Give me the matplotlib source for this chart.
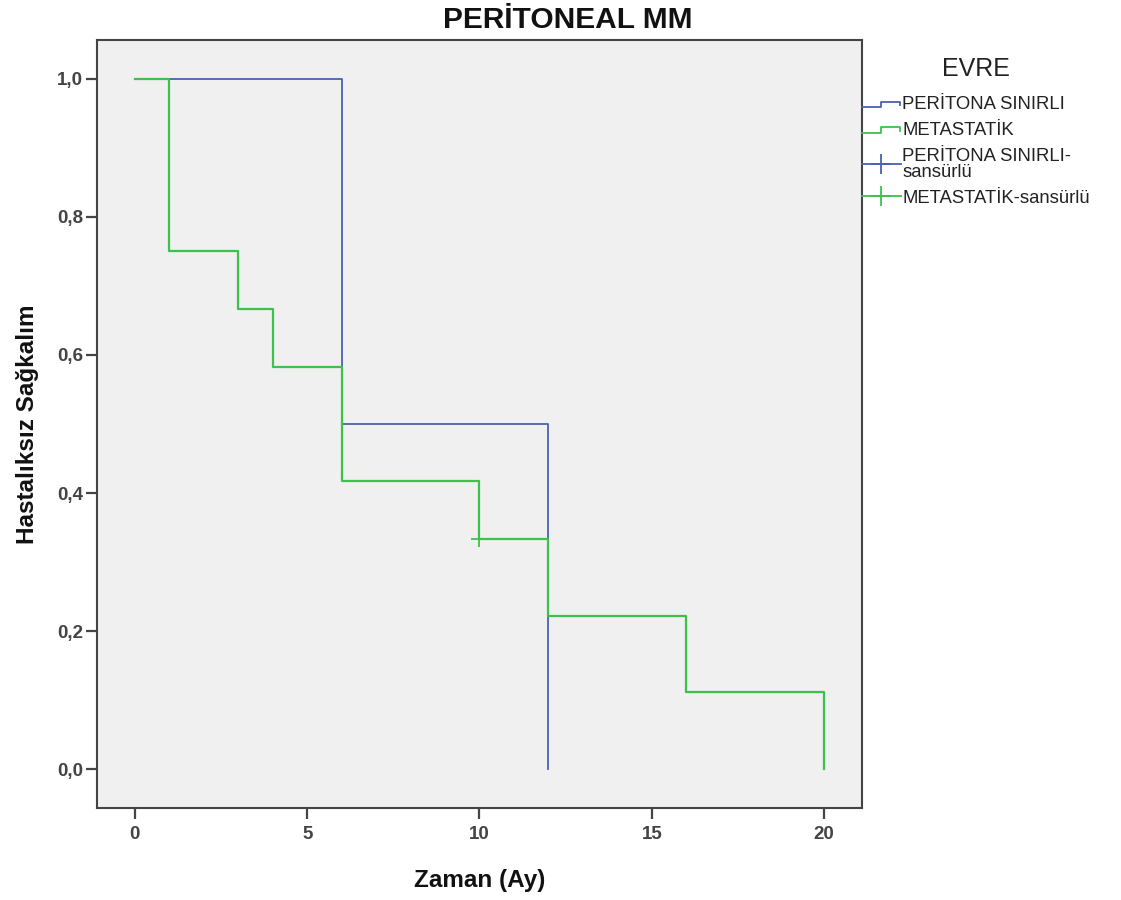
import matplotlib
matplotlib.use("Agg")
import matplotlib.pyplot as plt
from matplotlib.lines import Line2D
from matplotlib.legend_handler import HandlerBase

# Kaplan-Meier step data (time in months, survival)
peri_times = [0, 6, 12]
peri_surv = [1.0, 0.5, 0.0]
meta_times = [0, 1, 3, 4, 6, 10, 12, 16, 20]
meta_surv = [1.0, 0.75, 0.6667, 0.5833, 0.4167, 0.3333, 0.2222, 0.1111, 0.0]
meta_cens_t = [10]
meta_cens_s = [0.3333]
peri_cens_t = []
peri_cens_s = []

x_ticks = [0, 5, 10, 15, 20]
y_ticks = [0.0, 0.2, 0.4, 0.6, 0.8, 1.0]
y_tick_labels = ["0,0", "0,2", "0,4", "0,6", "0,8", "1,0"]

BLUE = "#4a62b0"
GREEN = "#3cc24a"

plt.rcParams["font.family"] = ["Liberation Sans", "DejaVu Sans"]

fig = plt.figure(figsize=(11.21, 9.0), dpi=100)
ax = fig.add_axes([97 / 1121, 1 - 808 / 900, (862 - 97) / 1121, (808 - 40) / 900])
ax.set_facecolor("#f0f0f0")


def step_xy(times, surv):
    xs, ys = [], []
    for i, (t, s) in enumerate(zip(times, surv)):
        if i > 0:
            xs.append(t)
            ys.append(surv[i - 1])
        xs.append(t)
        ys.append(s)
    return xs, ys


px, py = step_xy(peri_times, peri_surv)
mx, my = step_xy(meta_times, meta_surv)
ax.plot(px, py, color=BLUE, lw=1.3, zorder=3)
ax.plot(mx, my, color=GREEN, lw=1.6, zorder=4)
ax.plot(meta_cens_t, meta_cens_s, ls="none", marker="+", ms=11, mew=1.3,
        color=GREEN, zorder=5)
if peri_cens_t:
    ax.plot(peri_cens_t, peri_cens_s, ls="none", marker="+", ms=11, mew=1.3,
            color=BLUE, zorder=5)

ax.set_xlim(-1.1, 21.1)
ax.set_ylim(-0.0565, 1.0565)
ax.set_xticks(x_ticks)
ax.set_xticklabels([str(v) for v in x_ticks])
ax.set_yticks(y_ticks)
ax.set_yticklabels(y_tick_labels)
ax.tick_params(axis="both", direction="out", length=8, width=1.6,
               color="#444444", labelsize=13.5, labelcolor="#444444")
ax.tick_params(axis="x", pad=5)
ax.tick_params(axis="y", pad=2)
for lab in ax.get_xticklabels() + ax.get_yticklabels():
    lab.set_fontweight("bold")
for sp in ax.spines.values():
    sp.set_color("#444444")
    sp.set_linewidth(1.5)

fig.text(568 / 1121, 1 - 20 / 900, "PERİTONEAL MM", fontsize=21.5,
         fontweight="bold", ha="center", va="center", color="#111111")
ax.set_xlabel("Zaman (Ay)", fontsize=17.5, fontweight="bold", color="#111111")
ax.xaxis.set_label_coords((480 - 97) / 765, -(880 - 808) / 768)
ax.set_ylabel("Hastalıksız Sağkalım", fontsize=17.5, fontweight="bold",
              color="#111111", va="center")
ax.yaxis.set_label_coords(-(97 - 28) / 765, 0.5)
ax.xaxis.label.set_va("center")


class StepHandler(HandlerBase):
    def create_artists(self, legend, orig_handle, xdescent, ydescent,
                       width, height, fontsize, trans):
        x0 = -xdescent
        yb = -ydescent + height * 0.15
        yt = -ydescent + height * 0.6
        xm = x0 + width * 0.48
        xr = x0 + width * 0.98
        line = Line2D([x0, xm, xm, xr, xr], [yb, yb, yt, yt, yt - height * 0.25],
                      color=orig_handle.get_color(), lw=1.3, transform=trans)
        return [line]


class CensHandler(HandlerBase):
    def create_artists(self, legend, orig_handle, xdescent, ydescent,
                       width, height, fontsize, trans):
        x0, x1 = -xdescent, -xdescent + width
        ym = -ydescent + height / 2
        line = Line2D([x0, x1], [ym, ym], color=orig_handle.get_color(),
                      lw=1.3, transform=trans)
        mark = Line2D([(x0 + x1) / 2], [ym], ls="none", marker="+", ms=15,
                      mew=1.3, color=orig_handle.get_color(), transform=trans)
        return [line, mark]


h1 = Line2D([], [], color=BLUE)
h2 = Line2D([], [], color=GREEN)
h3 = Line2D([], [], color=BLUE, marker="+")
h4 = Line2D([], [], color=GREEN, marker="+")
leg = fig.legend(
    [h1, h2, h3, h4],
    ["PERİTONA SINIRLI", "METASTATİK", "PERİTONA SINIRLI-\nsansürlü",
     "METASTATİK-sansürlü"],
    handler_map={h1: StepHandler(), h2: StepHandler(),
                 h3: CensHandler(), h4: CensHandler()},
    loc="upper left", bbox_to_anchor=(862 / 1121, 1 - 57 / 900),
    frameon=False, title="EVRE", title_fontsize=18, fontsize=13.3,
    handlelength=2.1, handletextpad=0.08, borderaxespad=0, borderpad=0,
    labelspacing=0.48, labelcolor="#222222",
)
leg.get_title().set_color("#222222")
leg._legend_box.align = "center"
leg._legend_box.sep = 11
for t in leg.get_texts():
    t.set_linespacing(0.9)

fig.savefig("out.png", dpi=100, facecolor="white")
